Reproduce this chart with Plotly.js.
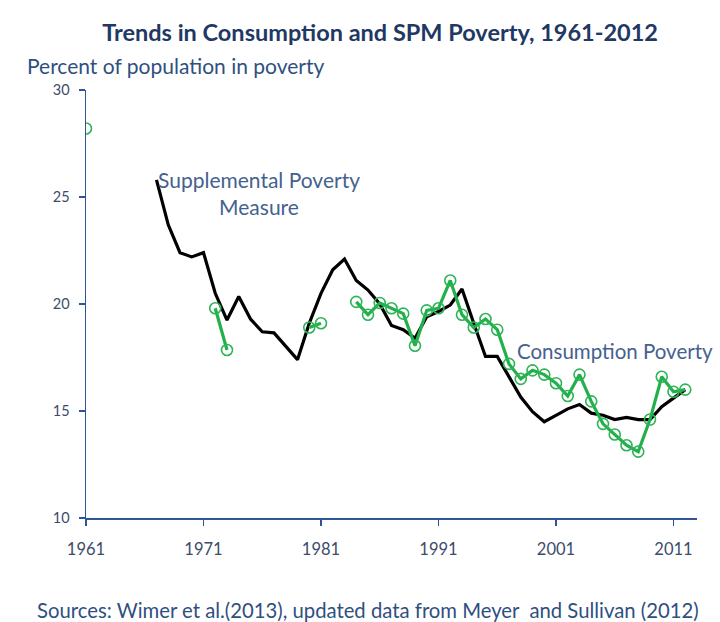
<!DOCTYPE html>
<html>
<head>
<meta charset="utf-8">
<script src="https://cdn.plot.ly/plotly-3.0.1.min.js"></script>
<style>html,body{margin:0;padding:0;background:#fff;overflow:hidden}#chart{width:720px;height:622px}</style>
</head>
<body>
<div id="chart"></div>
<script>
// SPM (Supplemental Poverty Measure), 1967-2012
const spmYears = [1967,1968,1969,1970,1971,1972,1973,1974,1975,1976,1977,1978,1979,1980,1981,1982,1983,1984,1985,1986,1987,1988,1989,1990,1991,1992,1993,1994,1995,1996,1997,1998,1999,2000,2001,2002,2003,2004,2005,2006,2007,2008,2009,2010,2011,2012];
const spmValues = [25.8,23.7,22.4,22.2,22.4,20.5,19.25,20.35,19.3,18.7,18.65,18.0,17.4,19.1,20.5,21.6,22.1,21.1,20.65,20.0,19.0,18.8,18.4,19.4,19.65,19.95,20.7,19.1,17.55,17.55,16.6,15.65,14.97,14.5,14.8,15.1,15.3,14.9,14.8,14.6,14.7,14.6,14.6,15.2,15.6,16.0];

// Consumption poverty (gaps where no data)
const consYears = [1961,1962,1971,1972,1973,1974,1979,1980,1981,1982,1983,1984,1985,1986,1987,1988,1989,1990,1991,1992,1993,1994,1995,1996,1997,1998,1999,2000,2001,2002,2003,2004,2005,2006,2007,2008,2009,2010,2011,2012];
const consValues = [28.2,null,null,19.8,17.85,null,null,18.9,19.1,null,null,20.1,19.5,20.05,19.8,19.55,18.05,19.7,19.8,21.1,19.5,18.9,19.3,18.8,17.2,16.5,16.9,16.7,16.3,15.7,16.7,15.45,14.4,13.9,13.4,13.1,14.6,16.6,15.9,16.0];

const xTicks = [1961,1971,1981,1991,2001,2011];
const yTicks = [10,15,20,25,30];

const FONT = 'Lato, "Open Sans", sans-serif';
const axisColor = '#2f5597';
const tickColor = '#3d4b6b';
const textBlue = '#44628f';

const traces = [
  {x: spmYears, y: spmValues, type:'scatter', mode:'lines',
   line:{color:'#000000', width:3.2}, hoverinfo:'skip'},
  {x: consYears, y: consValues, type:'scatter', mode:'lines+markers', connectgaps:false,
   line:{color:'#22b04b', width:3.2},
   marker:{symbol:'circle-open', size:11, color:'#2fb357', line:{width:1.6, color:'#2fb357'}}, hoverinfo:'skip'}
];

const layout = {
  width:720, height:622,
  paper_bgcolor:'#ffffff', plot_bgcolor:'#ffffff',
  margin:{l:86, r:23, t:90, b:104},
  showlegend:false,
  title:{text:'<b>Trends in Consumption and SPM Poverty, 1961-2012</b>',
         font:{family:FONT, size:23.5, color:'#1f3864'},
         x:0.528, xref:'container', xanchor:'center', y:0.948, yref:'container', yanchor:'middle'},
  xaxis:{range:[1961,2013], tickmode:'array', tickvals:xTicks, ticktext:xTicks.map(String),
         showgrid:false, zeroline:false, showline:true, linecolor:axisColor, linewidth:1.5,
         ticks:'outside', ticklen:6, tickcolor:axisColor, tickwidth:1.5,
         tickfont:{family:FONT, size:16.5, color:tickColor},
         ticklabelstandoff:10, fixedrange:true},
  yaxis:{range:[10,30], tickmode:'array', tickvals:yTicks, ticktext:yTicks.map(String),
         showgrid:false, zeroline:false, showline:true, linecolor:axisColor, linewidth:1.5,
         ticks:'outside', ticklen:6, tickcolor:axisColor, tickwidth:1.5,
         tickfont:{family:FONT, size:14.5, color:tickColor},
         ticklabelstandoff:6, fixedrange:true},
  annotations:[
    {text:'Percent of population in poverty', xref:'paper', yref:'paper', x:-0.1, y:1.0, xanchor:'left', yanchor:'bottom',
     yshift:10, showarrow:false, font:{family:FONT, size:21, color:'#2f4f7f'}},
    {text:'Supplemental Poverty<br>Measure', xref:'x', yref:'y', x:1975.7, y:25.2, xanchor:'center', yanchor:'middle',
     showarrow:false, align:'center', font:{family:FONT, size:21, color:textBlue}},
    {text:'Consumption Poverty', xref:'x', yref:'y', x:1997.5, y:17.8, xanchor:'left', yanchor:'middle',
     showarrow:false, font:{family:FONT, size:20.5, color:textBlue}},
    {text:'Sources: Wimer et al.(2013), updated data from Meyer  and Sullivan (2012)', xref:'paper', yref:'paper',
     x:-0.083, y:0, xanchor:'left', yanchor:'top', yshift:-78, showarrow:false,
     font:{family:FONT, size:20.3, color:'#2f4f7f'}}
  ]
};

Plotly.newPlot('chart', traces, layout, {staticPlot:true, displayModeBar:false});
</script>
</body>
</html>
